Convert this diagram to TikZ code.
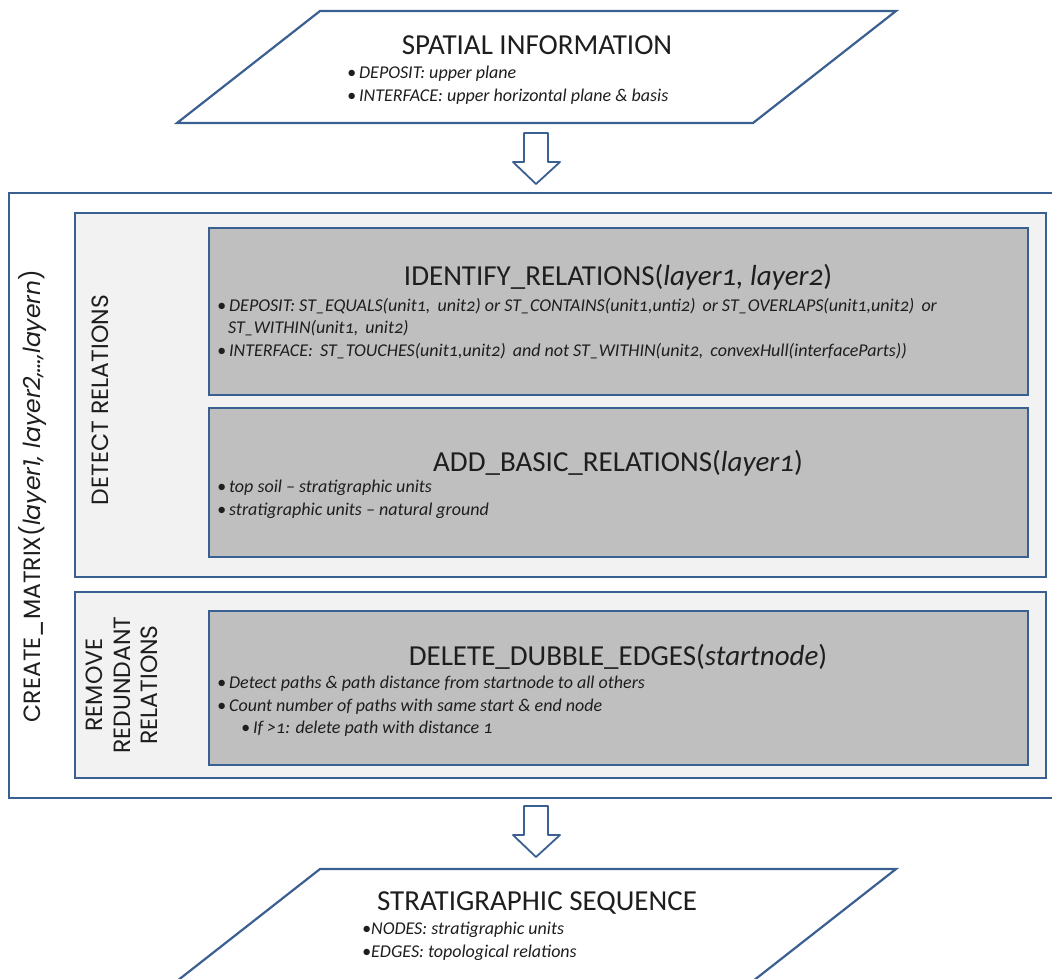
\documentclass[tikz,border=0pt]{standalone}
\usepackage{fontspec}
\setmainfont{Carlito}[Numbers=OldStyle]
\newfontfamily\widefont{Poppins}
\usetikzlibrary{positioning}

\definecolor{frameblue}{RGB}{58,95,145}
\definecolor{panelgray}{RGB}{242,242,242}
\definecolor{boxgray}{RGB}{191,191,191}
\definecolor{inkgray}{RGB}{30,30,30}

\begin{document}
\begin{tikzpicture}[
    x=1pt, y=-1pt,
    frame/.style={draw=frameblue, line width=2.2pt},
    title/.style={font=\fontsize{29}{33}\selectfont, text=inkgray, inner sep=0},
    bullets/.style={font=\fontsize{18}{22.5}\selectfont\itshape, text=inkgray,
        align=left, anchor=north west, inner sep=0},
    sidelabel/.style={font=\widefont\fontsize{23.5}{27.5}\selectfont, text=inkgray,
        rotate=90, align=center, inner sep=0}
]
\useasboundingbox (0,0) rectangle (1052,978);

% --- Input: spatial information ---
\draw[frame, fill=white] (320,11) -- (896,11) -- (753,123) -- (177,123) -- cycle;
\node[title] (spatialtitle) at (537,45) {SPATIAL INFORMATION};
\node[bullets] (spatiallist) at (347,66)
    {\textbullet\,DEPOSIT: upper plane\\
     \textbullet\,INTERFACE: upper horizontal plane \& basis};

% --- Block arrows ---
\foreach \ytop in {133,806} {
    \draw[draw=frameblue, line width=1.8pt, fill=white, line join=round]
        (524,\ytop) -- (548,\ytop) -- (548,\ytop+29) -- (560,\ytop+29)
        -- (536,\ytop+51) -- (513,\ytop+29) -- (524,\ytop+29) -- cycle;
}

% --- CREATE_MATRIX frame ---
\draw[frame] (9,193) rectangle (1060,798);
\node[sidelabel] (creatematrix) at (33,496)
    {CREATE\_MATRIX(\textit{layer1, layer2,\ldots,layern})};

% --- Detect relations panel ---
\draw[frame, fill=panelgray] (75,213) rectangle (1046,577);
\node[sidelabel] (detectlabel) at (100,400) {DETECT RELATIONS};

\draw[frame, fill=boxgray] (209,228) rectangle (1028,395);
\node[title] (identifytitle) at (618,277)
    {IDENTIFY\_RELATIONS(\textit{layer1, layer2})};
\node[bullets] (identifylist) at (217,298)
    {\textbullet\,DEPOSIT: ST\_EQUALS(unit1,\, unit2) or ST\_CONTAINS(unit1,unti2)\,
     or ST\_OVERLAPS(unit1,unit2)\, or\\
     \hspace*{11pt}ST\_WITHIN(unit1,\, unit2)\\
     \textbullet\,INTERFACE:\, ST\_TOUCHES(unit1,unit2)\, and not ST\_WITHIN(unit2,\,
     convexHull(interfaceParts))};

\draw[frame, fill=boxgray] (209,408) rectangle (1028,557);
\node[title] (basictitle) at (618,463)
    {ADD\_BASIC\_RELATIONS(\textit{layer1})};
\node[bullets] (basiclist) at (217,480)
    {\textbullet\,top soil -- stratigraphic units\\
     \textbullet\,stratigraphic units -- natural ground};

% --- Remove redundant relations panel ---
\draw[frame, fill=panelgray] (75,592) rectangle (1046,778);
\node[sidelabel] (removelabel) at (122,685) {REMOVE\\REDUNDANT\\RELATIONS};

\draw[frame, fill=boxgray] (209,611) rectangle (1028,765);
\node[title] (deletetitle) at (618,657)
    {DELETE\_DUBBLE\_EDGES(\textit{startnode})};
\node[bullets] (deletelist) at (217,676)
    {\textbullet\,Detect paths \& path distance from startnode to all others\\
     \textbullet\,Count number of paths with same start \& end node\\
     \hspace*{24pt}\textbullet\,If >1: delete path with distance 1};

% --- Output: stratigraphic sequence ---
\draw[frame, fill=white] (320,869) -- (896,869) -- (753,981) -- (177,981) -- cycle;
\node[title] (sequencetitle) at (537,903) {STRATIGRAPHIC SEQUENCE};
\node[bullets] (sequencelist) at (362,922)
    {\textbullet NODES: stratigraphic units\\
     \textbullet EDGES: topological relations};

\end{tikzpicture}
\end{document}
